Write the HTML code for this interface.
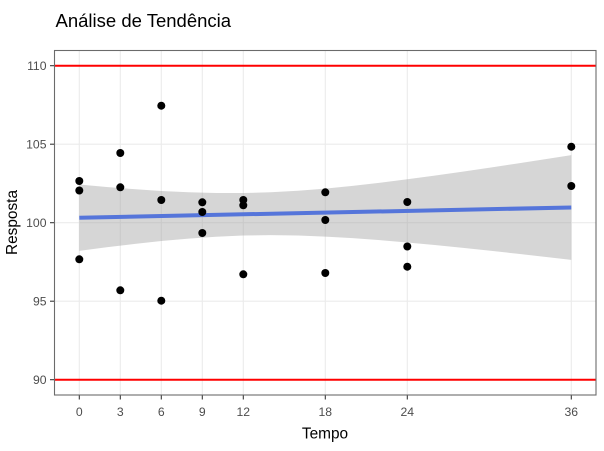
<!DOCTYPE html>
<html><head><meta charset="utf-8"><style>
html,body{margin:0;padding:0;background:#fff;}
svg{display:block;}
text{font-family:"Liberation Sans",Arial,sans-serif;}
</style></head><body>
<svg width="604" height="451" viewBox="0 0 604 451" xmlns="http://www.w3.org/2000/svg">
<rect width="604" height="451" fill="#fff"/>
<!-- grid -->
<g stroke="#EBEBEB" stroke-width="1.07" fill="none">
<line x1="54" y1="65.7" x2="596" y2="65.7"/>
<line x1="54" y1="144.2" x2="596" y2="144.2"/>
<line x1="54" y1="222.7" x2="596" y2="222.7"/>
<line x1="54" y1="301.2" x2="596" y2="301.2"/>
<line x1="54" y1="379.7" x2="596" y2="379.7"/>
<line x1="79.3" y1="50" x2="79.3" y2="395"/>
<line x1="120.3" y1="50" x2="120.3" y2="395"/>
<line x1="161.3" y1="50" x2="161.3" y2="395"/>
<line x1="202.3" y1="50" x2="202.3" y2="395"/>
<line x1="243.3" y1="50" x2="243.3" y2="395"/>
<line x1="325.3" y1="50" x2="325.3" y2="395"/>
<line x1="407.3" y1="50" x2="407.3" y2="395"/>
<line x1="571.3" y1="50" x2="571.3" y2="395"/>
</g>
<!-- ribbon -->
<polygon fill="#999999" fill-opacity="0.4" points="79.3,184.5 106.6,186.96 134.0,189.14 161.3,190.96 188.6,192.29 216.0,193.03 243.3,193.05 270.6,192.29 298.0,190.79 325.3,188.62 352.6,185.9 380.0,182.77 407.3,179.31 434.6,175.62 462.0,171.75 489.3,167.74 516.6,163.62 544.0,159.43 571.3,155.16 571.3,259.84 544.0,256.71 516.6,253.64 489.3,250.66 462.0,247.79 434.6,245.04 407.3,242.49 380.0,240.17 352.6,238.16 325.3,236.58 298.0,235.55 270.6,235.17 243.3,235.55 216.0,236.71 188.6,238.57 161.3,241.04 134.0,244.0 106.6,247.3 79.3,250.9"/>
<!-- smooth line -->
<line x1="79.3" y1="217.7" x2="571.3" y2="207.5" stroke="#5575DA" stroke-width="4"/>
<!-- red lines -->
<line x1="54" y1="65.7" x2="596" y2="65.7" stroke="#FF0000" stroke-width="2"/>
<line x1="54" y1="379.7" x2="596" y2="379.7" stroke="#FF0000" stroke-width="2"/>
<!-- points -->
<g fill="#000">
<circle cx="79.3" cy="181" r="4"/>
<circle cx="79.3" cy="190.5" r="4"/>
<circle cx="79.3" cy="259.3" r="4"/>
<circle cx="120.3" cy="153" r="4"/>
<circle cx="120.3" cy="187.3" r="4"/>
<circle cx="120.3" cy="290.3" r="4"/>
<circle cx="161.3" cy="105.7" r="4"/>
<circle cx="161.3" cy="200" r="4"/>
<circle cx="161.3" cy="300.7" r="4"/>
<circle cx="202.3" cy="202.3" r="4"/>
<circle cx="202.3" cy="212" r="4"/>
<circle cx="202.3" cy="233" r="4"/>
<circle cx="243.3" cy="200" r="4"/>
<circle cx="243.3" cy="205.3" r="4"/>
<circle cx="243.3" cy="274.3" r="4"/>
<circle cx="325.3" cy="192.3" r="4"/>
<circle cx="325.3" cy="220" r="4"/>
<circle cx="325.3" cy="273" r="4"/>
<circle cx="407.3" cy="202" r="4"/>
<circle cx="407.3" cy="246.5" r="4"/>
<circle cx="407.3" cy="266.7" r="4"/>
<circle cx="571.3" cy="146.7" r="4"/>
<circle cx="571.3" cy="186" r="4"/>
</g>
<!-- border -->
<rect x="54.5" y="50.5" width="541.5" height="344.5" fill="none" stroke="#6b6b6b" stroke-width="1.1"/>
<!-- ticks -->
<g stroke="#333" stroke-width="1.07">
<line x1="50" y1="65.7" x2="54" y2="65.7"/>
<line x1="50" y1="144.2" x2="54" y2="144.2"/>
<line x1="50" y1="222.7" x2="54" y2="222.7"/>
<line x1="50" y1="301.2" x2="54" y2="301.2"/>
<line x1="50" y1="379.7" x2="54" y2="379.7"/>
<line x1="79.3" y1="395.5" x2="79.3" y2="399.5"/>
<line x1="120.3" y1="395.5" x2="120.3" y2="399.5"/>
<line x1="161.3" y1="395.5" x2="161.3" y2="399.5"/>
<line x1="202.3" y1="395.5" x2="202.3" y2="399.5"/>
<line x1="243.3" y1="395.5" x2="243.3" y2="399.5"/>
<line x1="325.3" y1="395.5" x2="325.3" y2="399.5"/>
<line x1="407.3" y1="395.5" x2="407.3" y2="399.5"/>
<line x1="571.3" y1="395.5" x2="571.3" y2="399.5"/>
</g>
<!-- tick labels -->
<g fill="#4D4D4D" font-size="12.2" text-anchor="end">
<text x="46.5" y="70">110</text>
<text x="46.5" y="148.5">105</text>
<text x="46.5" y="227">100</text>
<text x="46.5" y="305.5">95</text>
<text x="46.5" y="384">90</text>
</g>
<g fill="#4D4D4D" font-size="12.2" text-anchor="middle">
<text x="79.3" y="416.2">0</text>
<text x="120.3" y="416.2">3</text>
<text x="161.3" y="416.2">6</text>
<text x="202.3" y="416.2">9</text>
<text x="243.3" y="416.2">12</text>
<text x="325.3" y="416.2">18</text>
<text x="407.3" y="416.2">24</text>
<text x="571.3" y="416.2">36</text>
</g>
<!-- axis titles -->
<text x="325" y="438.5" font-size="15.4" text-anchor="middle" fill="#000">Tempo</text>
<text transform="translate(17,222.5) rotate(-90)" font-size="15.4" text-anchor="middle" fill="#000">Resposta</text>
<!-- title -->
<text x="55.5" y="27" font-size="18.5" fill="#000">Análise de Tendência</text>
</svg>
</body></html>
